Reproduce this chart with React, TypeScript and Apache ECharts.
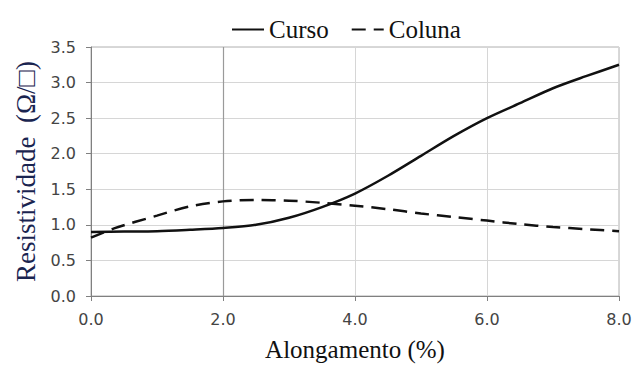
import React, { useEffect, useRef } from "react";
import * as echarts from "echarts";

const cursoX = [0, 0.5, 1, 1.5, 2, 2.5, 3, 3.5, 4, 4.5, 5, 5.5, 6, 6.5, 7, 7.5, 8];
const cursoY = [0.9, 0.905, 0.91, 0.93, 0.955, 1.0, 1.1, 1.25, 1.44, 1.69, 1.97, 2.25, 2.5, 2.71, 2.92, 3.09, 3.25];
const colunaX = [0, 0.35, 1, 1.5, 2, 2.5, 3, 3.5, 4, 4.5, 5, 5.5, 6, 6.5, 7, 7.5, 8];
const colunaY = [0.82, 0.95, 1.13, 1.26, 1.33, 1.35, 1.34, 1.31, 1.27, 1.22, 1.16, 1.11, 1.06, 1.01, 0.97, 0.94, 0.91];
const seriesNames = ["Curso", "Coluna"];
const xTitle = "Alongamento (%)";
const yTitle = "Resistividade  (Ω/□)";

const serif = "'Liberation Serif', 'Times New Roman', serif";
const sans = "'DejaVu Sans', sans-serif";

export default function App() {
  const ref = useRef<HTMLDivElement>(null);
  useEffect(() => {
    document.body.style.margin = "0";
    const chart = echarts.init(ref.current!, null, { renderer: "svg" });
    const pair = (xs: number[], ys: number[]) => xs.map((x, i) => [x, ys[i]]);
    chart.setOption({
      animation: false,
      backgroundColor: "#ffffff",
      grid: {
        left: 91,
        right: 16,
        top: 47,
        bottom: 64,
        show: true,
        borderColor: "#b0b0b0",
        borderWidth: 1,
        containLabel: false,
      },
      legend: {
        left: 226,
        top: 12,
        itemWidth: 32,
        itemHeight: 10,
        itemGap: 22,
        itemStyle: { opacity: 0 },
        textStyle: { fontFamily: serif, fontSize: 25, color: "#111" },
        data: seriesNames,
      },
      xAxis: {
        type: "value",
        min: 0,
        max: 8,
        interval: 2,
        name: xTitle,
        nameLocation: "middle",
        nameGap: 41,
        nameTextStyle: { fontFamily: serif, fontSize: 25, color: "#111" },
        axisLine: { show: true, lineStyle: { color: "#808080", width: 1 } },
        axisTick: { show: true, inside: false, length: 5, lineStyle: { color: "#808080" } },
        axisLabel: {
          fontFamily: sans,
          fontSize: 16,
          color: "#444",
          margin: 15,
          formatter: (v: number) => v.toFixed(1),
        },
        splitLine: { show: true, lineStyle: { color: "#d6d6d6", width: 1 } },
      },
      yAxis: {
        type: "value",
        min: 0,
        max: 3.5,
        interval: 0.5,
        name: yTitle,
        nameLocation: "middle",
        nameGap: 46,
        nameTextStyle: { fontFamily: serif, fontSize: 27, color: "#1a2450" },
        axisLine: { show: true, lineStyle: { color: "#808080", width: 1 } },
        axisTick: { show: true, inside: false, length: 5, lineStyle: { color: "#808080" } },
        axisLabel: {
          fontFamily: sans,
          fontSize: 16,
          color: "#444",
          margin: 15,
          formatter: (v: number) => v.toFixed(1),
        },
        splitLine: { show: true, lineStyle: { color: "#d6d6d6", width: 1 } },
      },
      series: [
        {
          name: seriesNames[0],
          type: "line",
          data: pair(cursoX, cursoY),
          smooth: 0.3,
          symbol: "none",
          lineStyle: { color: "#111", width: 2.5, type: "solid" },
          itemStyle: { color: "#111" },
          z: 3,
          markLine: {
            silent: true,
            symbol: "none",
            label: { show: false },
            lineStyle: { color: "#9a9a9a", width: 1.2, type: "solid" },
            data: [{ xAxis: 2 }],
            z: 1,
          },
        },
        {
          name: seriesNames[1],
          type: "line",
          data: pair(colunaX, colunaY),
          smooth: 0.3,
          symbol: "none",
          lineStyle: { color: "#111", width: 2.5, type: [14, 8] },
          itemStyle: { color: "#111" },
          z: 3,
        },
      ],
    });
    return () => chart.dispose();
  }, []);
  return <div ref={ref} style={{ width: 635, height: 367 }} />;
}
